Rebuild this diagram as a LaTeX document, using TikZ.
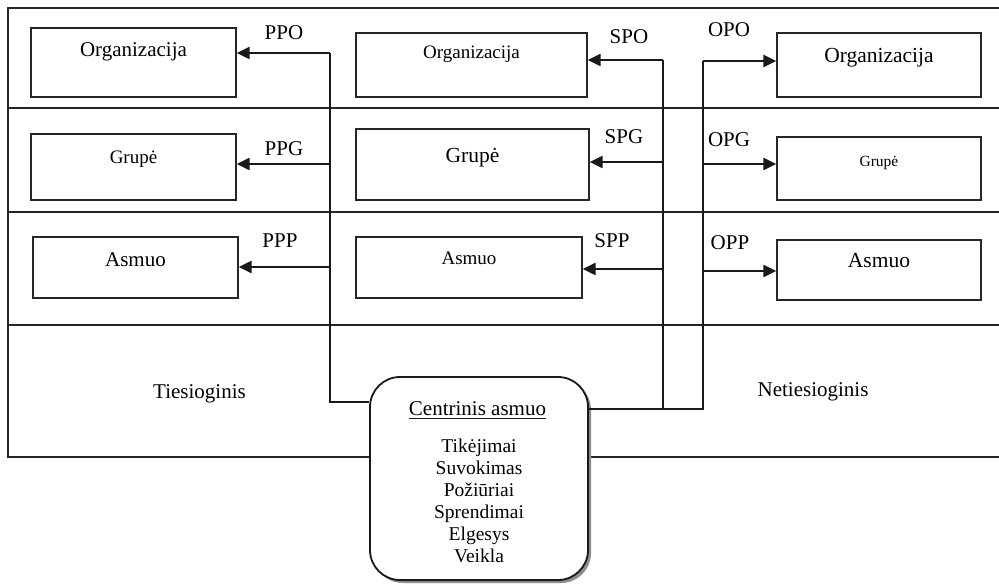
\documentclass[tikz,border=0pt]{standalone}
\usepackage{fontspec}
\setmainfont{Liberation Serif}
\usetikzlibrary{arrows.meta,shadows}

\newcommand\fsz[1]{\fontsize{#1}{#1}\selectfont}

\begin{document}
\begin{tikzpicture}[x=1pt,y=-1pt,
  frame/.style={draw=black!85,line width=1.2pt},
  wire/.style={draw=black!90,line width=1.3pt},
  arr/.style={draw=black!90,line width=2.2pt,-{Triangle[length=13pt,width=12pt]}},
  unit/.style={draw=black!85,line width=1.3pt,fill=white,rectangle,
               text height=0pt,inner sep=0pt},
  lbl/.style={anchor=base,inner sep=0pt,font=\fsz{21}},
  central/.style={draw=black!90,line width=1.8pt,fill=white,rounded corners=30pt,
                  drop shadow={shadow xshift=3pt,shadow yshift=-3pt,fill=black!45,opacity=1}}]

\useasboundingbox (0,0) rectangle (999,585);

% outer frame and level separators
\draw[frame] (999,8) -- (8,8) -- (8,457) -- (999,457);
\draw[frame] (8,108) -- (999,108);
\draw[frame] (8,212) -- (999,212);
\draw[frame] (8,325) -- (999,325);

% direct influence column
\node[unit,minimum width=205pt,minimum height=69pt,text depth=12pt,font=\fsz{21}] (lo) at (133.5,62.5) {Organizacija};
\node[unit,minimum width=205pt,minimum height=66pt,text depth=6pt,font=\fsz{19}] (lg) at (133.5,167) {Grupė};
\node[unit,minimum width=205pt,minimum height=61pt,text depth=2pt,font=\fsz{21}] (la) at (135.5,267.5) {Asmuo};

% middle column
\node[unit,minimum width=231pt,minimum height=64pt,text depth=13pt,font=\fsz{19}] (mo) at (471.5,65) {Organizacija};
\node[unit,minimum width=233pt,minimum height=71pt,text depth=3pt,font=\fsz{21.5}] (mg) at (472.5,164.5) {Grupė};
\node[unit,minimum width=226pt,minimum height=61pt,text depth=6pt,font=\fsz{19}] (ma) at (469,267.5) {Asmuo};

% indirect influence column
\node[unit,minimum width=204pt,minimum height=64pt,text depth=4pt,font=\fsz{21.5}] (ro) at (879,65) {Organizacija};
\node[unit,minimum width=204pt,minimum height=63pt,text depth=4pt,font=\fsz{15.5}] (rg) at (879,168.5) {Grupė};
\node[unit,minimum width=204pt,minimum height=60pt,text depth=4pt,font=\fsz{21.5}] (ra) at (879,270) {Asmuo};

% central person
\node[central,minimum width=218pt,minimum height=203pt] (cb) at (479,478.5) {};
\node[lbl] (ctitle) at (477.5,415) {Centrinis asmuo};
\draw[line width=1.8pt,black!90] ([yshift=-3.5pt]ctitle.base west) -- ([yshift=-3.5pt]ctitle.base east);
\node[anchor=base,inner sep=0pt,align=center,font=\fontsize{19.5}{22}\selectfont] (citems) at (479,562)
  {Tikėjimai\\Suvokimas\\Požiūriai\\Sprendimai\\Elgesys\\Veikla};

% junction points of the connector trunks
\coordinate (lt) at (330,53);
\coordinate (lb) at (330,402);
\coordinate (l2) at (330,164);
\coordinate (l3) at (330,267);
\coordinate (mt) at (663,60);
\coordinate (mb) at (663,409);
\coordinate (m2) at (663,162);
\coordinate (m3) at (663,269);
\coordinate (rt) at (703,61);
\coordinate (rb) at (703,409);
\coordinate (r2) at (703,164);
\coordinate (r3) at (703,271);

% trunks
\draw[wire] (lb -| cb.west) -- (lb) -- (lt);
\draw[wire] (mb -| cb.east) -- (mb) -- (mt);
\draw[wire] (mb) -- (rb) -- (rt);

% branches
\draw[arr] (lt) -- (lt -| lo.east);
\draw[arr] (l2) -- (l2 -| lg.east);
\draw[arr] (l3) -- (l3 -| la.east);
\draw[arr] (mt) -- (mt -| mo.east);
\draw[arr] (m2) -- (m2 -| mg.east);
\draw[arr] (m3) -- (m3 -| ma.east);
\draw[arr] (rt) -- (rt -| ro.west);
\draw[arr] (r2) -- (r2 -| rg.west);
\draw[arr] (r3) -- (r3 -| ra.west);

% branch labels
\node[lbl] (ppo) at (284,40) {PPO};
\node[lbl] (ppg) at (284,156) {PPG};
\node[lbl] (ppp) at (280,248) {PPP};
\node[lbl] (spo) at (629,44) {SPO};
\node[lbl] (spg) at (624,144) {SPG};
\node[lbl] (spp) at (612,248) {SPP};
\node[lbl] (opo) at (729,37) {OPO};
\node[lbl] (opg) at (729,147) {OPG};
\node[lbl] (opp) at (730,250) {OPP};

% influence types
\node[lbl] (tdirect) at (199.5,398) {Tiesioginis};
\node[lbl] (tindirect) at (813,396) {Netiesioginis};

\end{tikzpicture}
\end{document}
